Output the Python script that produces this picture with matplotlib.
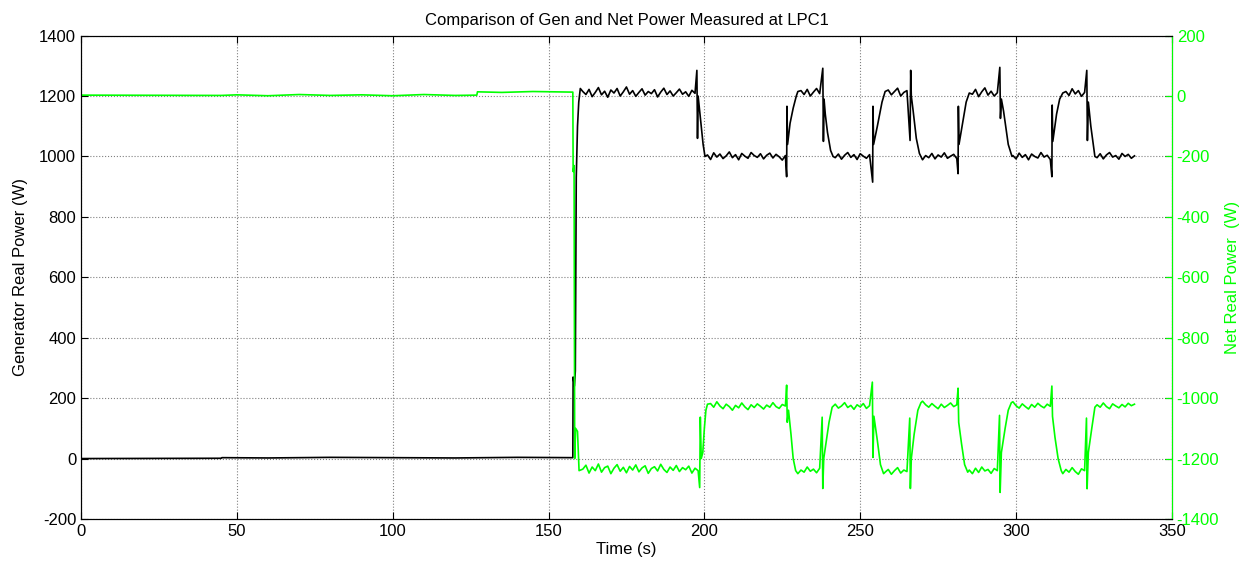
import matplotlib
matplotlib.use("Agg")
import matplotlib.pyplot as plt

plt.rcParams['font.family'] = ['Liberation Sans', 'DejaVu Sans']
plt.rcParams['axes.unicode_minus'] = False

# generator real power (left axis)
gen_time = [0, 45, 45.2, 60, 80, 100, 120, 140, 157.8,
            157.9, 158.3, 158.6, 158.9, 159.3, 159.7, 160.2,
            161, 162, 163, 164, 165, 166, 167, 168, 169, 170, 171, 172, 173, 174, 175, 176, 177, 178, 179,
            180, 181, 182, 183, 184, 185, 186, 187, 188, 189, 190, 191, 192, 193, 194, 195, 196, 197,
            197.6, 197.8, 198, 198.5, 199, 199.6, 200.2,
            201, 202, 203, 204, 205, 206, 207, 208, 209, 210, 211, 212, 213, 214, 215, 216, 217, 218,
            219, 220, 221, 222, 223, 224, 225, 226,
            226.4, 226.5, 226.7, 227.5, 228.5, 229.5, 230,
            231, 232, 233, 234, 235, 236, 237,
            238, 238.2, 238.4, 238.8, 239.5, 240.5, 241.3,
            242, 243, 244, 245, 246, 247, 248, 249, 250, 251, 252, 253,
            254, 254.1, 254.3, 255.5, 257, 258,
            259, 260, 261, 262, 263, 264, 265,
            266, 266.2, 266.4, 267, 268, 269,
            270, 271, 272, 273, 274, 275, 276, 277, 278, 279, 280, 281,
            281.4, 281.5, 281.7, 283, 284, 285,
            286, 287, 288, 289, 290, 291, 292, 293, 294,
            294.8, 295, 295.3, 296, 297.5, 298.7,
            299, 300, 301, 302, 303, 304, 305, 306, 307, 308, 309, 310, 311,
            311.5, 311.6, 311.8, 313, 314, 315,
            316, 317, 318, 319, 320, 321, 322,
            322.7, 322.9, 323.2, 324, 325.3,
            326, 327, 328, 329, 330, 331, 332, 333, 334, 335, 336, 337, 338]
gen_power = [0, 1, 3, 2, 4, 3, 2, 4, 3,
             270, 240, 290, 930, 1100, 1180, 1225,
             1215, 1205, 1222, 1198, 1212, 1228, 1204, 1216, 1196, 1220, 1210, 1225, 1200, 1214, 1230, 1206, 1218, 1199, 1212,
             1224, 1203, 1215, 1208, 1221, 1197, 1213, 1226, 1205, 1217, 1200, 1211, 1223, 1206, 1214, 1199, 1219, 1209,
             1285, 1060, 1200, 1150, 1100, 1040, 1000,
             1005, 990, 1012, 998, 1008, 993, 1002, 1015, 996, 1006, 989, 1010, 1001, 994, 1013, 1003, 997, 1009,
             992, 1004, 1011, 995, 1007, 999, 988, 1003,
             933, 1166, 1040, 1110, 1160, 1200, 1215,
             1218, 1205, 1222, 1200, 1213, 1225, 1208,
             1292, 1050, 1190, 1140, 1080, 1020, 1000,
             996, 1008, 991, 1004, 1013, 997, 1006, 990, 1009, 1001, 994, 1006,
             915, 1166, 1040, 1100, 1180, 1215,
             1220, 1204, 1215, 1226, 1200, 1212, 1218,
             1053, 1285, 1200, 1150, 1060, 1010,
             989, 1003, 996, 1010, 992, 1005, 998, 1012, 994, 1001, 1007, 993,
             943, 1166, 1040, 1120, 1180, 1210,
             1206, 1222, 1198, 1214, 1227, 1203, 1216, 1200, 1211,
             1295, 1126, 1190, 1150, 1040, 1000,
             1003, 992, 1011, 997, 1006, 989, 1008, 1000, 995, 1013, 998, 1004, 990,
             933, 1170, 1050, 1140, 1190, 1210,
             1215, 1202, 1224, 1207, 1218, 1199, 1212,
             1285, 1053, 1180, 1100, 1000,
             996, 1009, 992, 1005, 1013, 998, 1003, 991, 1010, 1000, 1007, 994, 1002]

# net real power (right axis)
net_time = [0, 45, 50, 60, 70, 80, 90, 100, 110, 120, 127, 127.2, 135, 145, 157.8,
            157.9, 158.2, 158.4, 158.7, 159.3, 159.8,
            161, 162, 163, 164, 165, 166, 167, 168, 169, 170, 171, 172, 173, 174, 175, 176, 177, 178, 179,
            180, 181, 182, 183, 184, 185, 186, 187, 188, 189, 190, 191, 192, 193, 194, 195, 196, 197, 198,
            198.5, 198.7, 199, 199.5, 200, 200.5, 201,
            202, 203, 204, 205, 206, 207, 208, 209, 210, 211, 212, 213, 214, 215, 216, 217, 218, 219,
            220, 221, 222, 223, 224, 225, 226,
            226.4, 226.6, 227, 227.8, 228.5, 229.3,
            230, 231, 232, 233, 234, 235, 236, 237,
            237.8, 238, 238.3, 239, 240, 241,
            242, 243, 244, 245, 246, 247, 248, 249, 250, 251, 252, 253,
            253.9, 254.1, 254.4, 255.5, 256.5, 257.5,
            258, 259, 260, 261, 262, 263, 264, 265,
            265.9, 266.1, 266.4, 267.3, 268.5, 269.5,
            270, 271, 272, 273, 274, 275, 276, 277, 278, 279, 280, 281,
            281.4, 281.6, 282.5, 283.5, 284.5,
            285, 286, 287, 288, 289, 290, 291, 292, 293, 294,
            294.7, 294.9, 295.3, 296.5, 297.5, 298.5,
            299, 300, 301, 302, 303, 304, 305, 306, 307, 308, 309, 310, 311,
            311.5, 311.7, 312.5, 313.5, 314.5,
            315, 316, 317, 318, 319, 320, 321, 322,
            322.6, 322.8, 323.2, 324.3, 325.3,
            326, 327, 328, 329, 330, 331, 332, 333, 334, 335, 336, 337, 338]
net_power = [3, 2, 4, 1, 5, 2, 4, 1, 5, 2, 3, 14, 12, 15, 13,
             -250, -230, -1200, -1100, -1110, -1240,
             -1235, -1222, -1248, -1228, -1240, -1218, -1245, -1230, -1225, -1250, -1232, -1220, -1242, -1229, -1247, -1226, -1238, -1221, -1244,
             -1231, -1224, -1249, -1233, -1227, -1241, -1219, -1236, -1246, -1228, -1239, -1223, -1243, -1230, -1237, -1225, -1248, -1232, -1240,
             -1296, -1063, -1200, -1180, -1100, -1040, -1020,
             -1018, -1030, -1012, -1026, -1035, -1020, -1028, -1040, -1024, -1032, -1016, -1029, -1038, -1022, -1031, -1019, -1027, -1036,
             -1023, -1030, -1015, -1028, -1034, -1021, -1026,
             -957, -1080, -1040, -1120, -1200, -1240,
             -1250, -1238, -1245, -1228, -1242, -1235, -1247, -1232,
             -1063, -1299, -1200, -1150, -1080, -1030,
             -1020, -1033, -1026, -1015, -1031, -1024, -1037, -1022, -1029, -1018, -1034, -1025,
             -947, -1196, -1060, -1140, -1220, -1250,
             -1245, -1236, -1252, -1240, -1230, -1248, -1238, -1243,
             -1066, -1299, -1200, -1120, -1040, -1015,
             -1010, -1022, -1030, -1018, -1027, -1035, -1020, -1031, -1024, -1016, -1028, -1022,
             -967, -1080, -1150, -1220, -1245,
             -1238, -1250, -1232, -1246, -1228, -1241, -1236, -1249, -1233, -1240,
             -1057, -1312, -1180, -1100, -1040, -1015,
             -1012, -1025, -1033, -1019, -1028, -1036, -1021, -1030, -1017, -1026, -1032, -1020, -1027,
             -960, -1060, -1130, -1200, -1240,
             -1250, -1236, -1245, -1230, -1243, -1252, -1234, -1240,
             -1066, -1300, -1180, -1100, -1030,
             -1022, -1030, -1016, -1028, -1035, -1019, -1026, -1032, -1021, -1029, -1017, -1025, -1020]

green = '#00ff00'

fig = plt.figure(figsize=(12.52, 5.7), dpi=100)
ax = fig.add_axes([0.0647, 0.0895, 0.8713, 0.848])
ax2 = ax.twinx()

ax.plot(gen_time, gen_power, color='black', linewidth=1.2)
ax2.plot(net_time, net_power, color=green, linewidth=1.2)

ax.set_xlim(0, 350)
ax.set_ylim(-200, 1400)
ax2.set_ylim(-1400, 200)
ax.set_xticks(range(0, 351, 50))
ax.set_yticks(range(-200, 1401, 200))
ax2.set_yticks(range(-1400, 201, 200))

ax.grid(True, color='#808080', linestyle=':', linewidth=0.8)
ax.tick_params(direction='in', top=True, right=True, labelsize=12, length=5)
ax2.tick_params(direction='in', colors=green, labelsize=12, length=5)
ax2.spines['right'].set_color(green)

ax.set_xlabel('Time (s)', fontsize=12, labelpad=2)
ax.set_ylabel('Generator Real Power (W)', fontsize=12, labelpad=8)
ax2.set_ylabel('Net Real Power  (W)', fontsize=12, color=green, labelpad=4)
ax.set_title('Comparison of Gen and Net Power Measured at LPC1', fontsize=12, pad=8)

fig.savefig('out.png', dpi=100)
